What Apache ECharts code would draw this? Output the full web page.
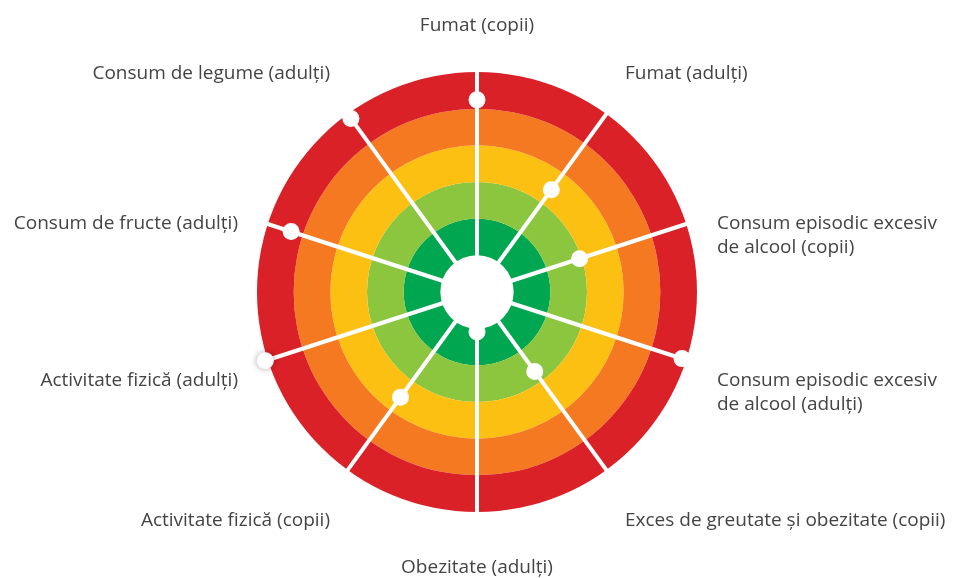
<!DOCTYPE html>
<html>
<head>
<meta charset="utf-8">
<script src="https://cdn.jsdelivr.net/npm/echarts@6/dist/echarts.min.js"></script>
<style>
  html, body { margin: 0; padding: 0; background: #fff; }
  #chart { width: 955px; height: 578px; }
</style>
</head>
<body>
<div id="chart"></div>
<script>
// indicators, clockwise from the top
var categories = [
  'Fumat (copii)',
  'Fumat (adulți)',
  'Consum episodic excesiv\nde alcool (copii)',
  'Consum episodic excesiv\nde alcool (adulți)',
  'Exces de greutate și obezitate (copii)',
  'Obezitate (adulți)',
  'Activitate fizică (copii)',
  'Activitate fizică (adulți)',
  'Consum de fructe (adulți)',
  'Consum de legume (adulți)'
];
// position of each dot on its spoke (0 = centre, 6 = outer edge)
var values = [5.24, 3.45, 2.94, 5.88, 2.68, 1.09, 3.55, 6.07, 5.33, 5.85];
// ring bands: centre, then green -> red (last band past the edge stays white)
var ringColors = ['#ffffff', '#00a650', '#8cc63e', '#fcc012', '#f47920', '#da2128'];

var cx = 477, cy = 292;
var ringMax = 6, axisMax = 6.2;
// label anchors relative to the centre [dx, dy, align]
var labelPos = [
  [0, -266, 'center'],
  [148, -218, 'left'],
  [240, -56, 'left'],
  [240, 101, 'left'],
  [148, 229, 'left'],
  [0, 276, 'center'],
  [-147, 229, 'right'],
  [-239, 89, 'right'],
  [-239, -68, 'right'],
  [-147, -218, 'right']
];

var step = 360 / categories.length;

var dots = values.map(function (v, i) {
  var item = { value: [v, i * step] };
  if (v > ringMax) {
    item.itemStyle = { shadowBlur: 6, shadowColor: 'rgba(0,0,0,0.35)' };
  }
  return item;
});

var labels = categories.map(function (name, i) {
  var p = labelPos[i];
  return {
    type: 'text',
    x: cx + p[0],
    y: cy + p[1],
    style: {
      text: name,
      align: p[2],
      verticalAlign: 'middle',
      fill: '#444',
      font: '19px "Open Sans", sans-serif',
      lineHeight: 24
    }
  };
});

var chart = echarts.init(document.getElementById('chart'));
chart.setOption({
  animation: false,
  polar: {
    center: [cx, cy],
    radius: 220 * axisMax / ringMax
  },
  angleAxis: {
    type: 'value',
    min: 0,
    max: 360,
    interval: step,
    startAngle: 90,
    clockwise: true,
    axisLine: { show: false },
    axisTick: { show: false },
    axisLabel: { show: false },
    splitLine: {
      show: true,
      lineStyle: { color: '#ffffff', width: 4 }
    }
  },
  radiusAxis: {
    type: 'value',
    min: 0,
    max: axisMax,
    interval: 1,
    axisLine: { show: false },
    axisTick: { show: false },
    axisLabel: { show: false },
    splitLine: { show: false },
    splitArea: {
      show: true,
      areaStyle: { color: ringColors, opacity: 1 }
    },
    z: 0
  },
  series: [
    {
      type: 'scatter',
      coordinateSystem: 'polar',
      symbol: 'circle',
      symbolSize: 17,
      itemStyle: { color: '#ffffff', opacity: 1 },
      data: dots,
      z: 5
    }
  ],
  graphic: labels
});
</script>
</body>
</html>
